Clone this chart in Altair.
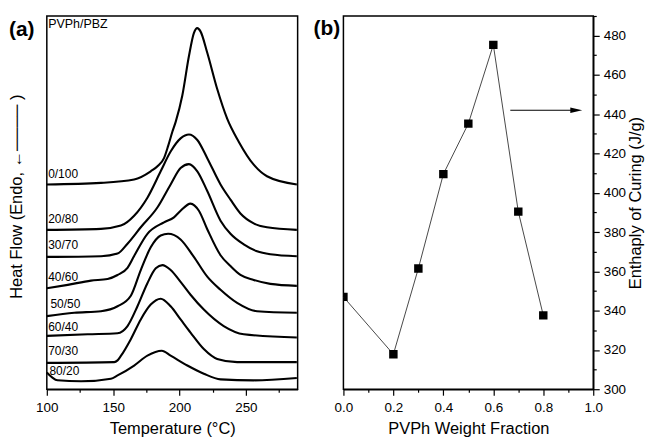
import altair as alt
import pandas as pd

FONT = "Liberation Sans"

# ---------------- Panel (a): DSC curves (heat flow in arbitrary units) -------------
blends = ["0/100", "20/80", "30/70", "40/60", "50/50", "60/40", "70/30", "80/20"]

temp_0_100 = [100, 140.8, 165.8, 178.3, 184, 188.3, 191.5, 194.6, 197.1, 202.1, 207.1, 210.8, 213.4, 215.8, 220.9, 228.4, 235.9, 244.6, 255.9, 265.9, 288.4]
heat_0_100 = [207.4, 209, 212.4, 220.7, 226.5, 234, 246.7, 260.7, 270.7, 297.4, 337.4, 360.7, 365.7, 362.4, 340.7, 304, 274, 250.7, 227.4, 215.7, 207.4]

temp_20_80 = [100, 140.8, 155.8, 165.8, 175.8, 185.8, 193.3, 200.8, 207.1, 213.4, 220.9, 230.9, 238.4, 245.9, 255.9, 265.9, 288.4]
heat_20_80 = [161.4, 162.4, 165.7, 175.7, 194, 220.7, 240.7, 254, 258, 252.4, 234, 207.4, 192, 178, 168, 164, 161.4]

temp_30_70 = [100, 140.8, 153.3, 160.8, 170.8, 183.3, 193.3, 200.8, 207.1, 213.4, 220.9, 230.9, 238.4, 248.4, 258.4, 268.4, 288.4]
heat_30_70 = [134, 134.7, 137.4, 147.4, 164, 184, 207.4, 224, 228, 220.7, 200.7, 170.7, 157.4, 146.7, 139.7, 136.7, 134.7]

temp_40_60 = [100, 115.8, 133.3, 145.8, 153.3, 160.8, 165.8, 175.8, 188.3, 195.8, 200.8, 208.3, 214.6, 220.9, 230.9, 238.4, 245.9, 255.9, 268.4, 288.4]
heat_40_60 = [102.2, 105.7, 110, 111.7, 115.7, 123, 135, 157.4, 169, 174, 180.7, 188, 180.7, 162, 135.7, 124.7, 115.7, 110.7, 106.7, 104.7]

temp_50_50 = [100, 120.7, 140.8, 153.3, 163.3, 170.8, 178.3, 185.8, 191.4, 200.8, 210.8, 220.9, 230.9, 243.4, 258.4, 288.4]
heat_50_50 = [74, 77.4, 79, 84, 94.7, 120.7, 143.7, 155.7, 157.4, 151.7, 134, 114, 100.7, 87.4, 79, 77.4]

temp_60_40 = [100, 130.8, 153.3, 160.8, 168.3, 175.8, 182.1, 187.1, 193.3, 200.8, 208.3, 218.3, 233.3, 248.4, 288.4]
heat_60_40 = [54, 55.7, 56.7, 64, 84, 107.4, 122.4, 125.7, 120.7, 108.7, 95.7, 80.7, 64, 55.7, 52.4]

temp_70_30 = [100, 150.8, 153.3, 155.8, 163.3, 170.8, 178.3, 185.8, 193.3, 200.8, 208.3, 218.3, 228.4, 243.4, 288.4]
heat_70_30 = [26.7, 27.4, 29.2, 33.7, 50.7, 70.7, 85.7, 91.7, 84, 70.7, 57.4, 40.7, 30.7, 27.4, 27.4]

temp_80_20 = [100, 104, 108, 125.8, 148.3, 153.3, 165.8, 175.8, 186.6, 193.3, 205.9, 218.3, 230.9, 255.9, 288.4]
heat_80_20 = [17, 12, 9, 8, 10.7, 14, 24, 34, 39, 34, 24, 15.7, 10, 9, 11.4]

curve_temps = [temp_0_100, temp_20_80, temp_30_70, temp_40_60, temp_50_50, temp_60_40, temp_70_30, temp_80_20]
curve_heats = [heat_0_100, heat_20_80, heat_30_70, heat_40_60, heat_50_50, heat_60_40, heat_70_30, heat_80_20]

label_temp = [101, 101, 101, 101, 102.7, 101, 101, 102]
label_heat = [218.2, 172.7, 145.7, 114, 86.2, 63.2, 39, 18]

# ---------------- Panel (b): enthalpy of curing -------------
fraction = [0.0, 0.2, 0.3, 0.4, 0.5, 0.6, 0.7, 0.8]
enthalpy = [347.0, 317.8, 361.5, 409.5, 435.2, 475.3, 390.4, 337.6]

# ---------------- tables ----------------
rows = []
for name, ts, hs in zip(blends, curve_temps, curve_heats):
    for i, (t, h) in enumerate(zip(ts, hs)):
        rows.append({"blend": name, "T": t, "v": h, "i": i})
curves = pd.DataFrame(rows)
labels = pd.DataFrame({"blend": blends, "T": label_temp, "v": label_heat})
note = pd.DataFrame({"T": [101], "v": [370], "txt": ["PVPh/PBZ"]})

PLOT_H = 375

xa = alt.X("T:Q",
           scale=alt.Scale(domain=[100, 289], nice=False, zero=False),
           axis=alt.Axis(values=[100, 125, 150, 175, 200, 225, 250, 275],
                         labelExpr="datum.value % 50 === 0 ? datum.label : ''",
                         tickSize={"condition": {"test": "datum.value % 50 === 0", "value": 6}, "value": 3},
                         format="d", labelFlush=False, labelPadding=5,
                         title="Temperature (°C)", titlePadding=7))
ya = alt.Y("v:Q",
           scale=alt.Scale(domain=[0, 378], nice=False, zero=False),
           axis=alt.Axis(labels=False, ticks=False, domain=False,
                         title="Heat Flow (Endo, ←──── )", titlePadding=22, titleY=181))

lines = alt.Chart(curves).mark_line(color="black", strokeWidth=2.1, interpolate="monotone").encode(
    x=xa, y=ya, detail="blend:N", order="i:Q")
lab = alt.Chart(labels).mark_text(align="left", baseline="middle", fontSize=12, font=FONT, color="black").encode(
    x=xa, y=ya, text="blend:N")
nt = alt.Chart(note).mark_text(align="left", baseline="middle", fontSize=12.5, font=FONT, color="black").encode(
    x=xa, y=ya, text="txt:N")

panel_a = alt.layer(lines, lab, nt).properties(
    width=252, height=PLOT_H,
    title=alt.TitleParams("(a)", anchor="start", frame="group", dx=-38, baseline="top", offset=-24,
                          fontSize=21, fontWeight="bold", font=FONT, color="black"))

# ---------------- panel (b) ----------------
ent = pd.DataFrame({"f": fraction, "e": enthalpy})
arrow = pd.DataFrame({"f": [0.668], "f2": [0.93], "e": [442]})
head = pd.DataFrame({"f": [0.932], "e": [442]})

xb = alt.X("f:Q",
           scale=alt.Scale(domain=[0, 1], nice=False),
           axis=alt.Axis(values=[0, 0.1, 0.2, 0.3, 0.4, 0.5, 0.6, 0.7, 0.8, 0.9, 1.0],
                         format=".1f",
                         labelExpr="round(datum.value * 10) % 2 === 0 ? datum.label : ''",
                         tickSize={"condition": {"test": "round(datum.value * 10) % 2 === 0", "value": 6}, "value": 3},
                         labelFlush=False, labelPadding=5,
                         title="PVPh Weight Fraction", titlePadding=7))
yb = alt.Y("e:Q",
           scale=alt.Scale(domain=[300, 490], nice=False, zero=False),
           axis=alt.Axis(orient="right", values=list(range(300, 491, 10)),
                         labelExpr="datum.value % 20 === 0 ? datum.label : ''",
                         tickSize={"condition": {"test": "datum.value % 20 === 0", "value": 6}, "value": 3},
                         labelPadding=4,
                         title="Enthaply of Curing (J/g)", titleAngle=270, titleBaseline="top",
                         titlePadding=2))

bl = alt.Chart(ent).mark_line(color="#333333", strokeWidth=0.9).encode(x=xb, y=yb)
bp = alt.Chart(ent).mark_point(shape="square", filled=True, color="black", size=72, opacity=1, clip=True).encode(x=xb, y=yb)
ar = alt.Chart(arrow).mark_rule(color="black", strokeWidth=1.2).encode(x=xb, x2="f2:Q", y=yb)
ah = alt.Chart(head).mark_point(shape="M 1 0 L -1 -0.45 L -1 0.45 Z", filled=True, color="black",
                                size=144, opacity=1).encode(x=xb, y=yb)

panel_b = alt.layer(bl, bp, ar, ah).properties(
    width=251, height=PLOT_H,
    title=alt.TitleParams("(b)", anchor="start", frame="group", dx=-30, baseline="top", offset=-24,
                          fontSize=21, fontWeight="bold", font=FONT, color="black"))

chart = alt.hconcat(panel_a, panel_b, spacing=46, bounds="flush").properties(
    padding={"left": 0, "top": 5, "right": 0, "bottom": 0}
).configure_axis(
    labelFont=FONT, titleFont=FONT, labelColor="black", titleColor="black",
    labelFontSize=13.5, titleFontSize=16.5, titleFontWeight="normal",
    domainColor="black", tickColor="black", domainWidth=1.5, tickWidth=1.2, grid=False
).configure_view(stroke="black", strokeWidth=1.5)

chart.save("out.html", embed_options={"renderer": "svg", "actions": False})
